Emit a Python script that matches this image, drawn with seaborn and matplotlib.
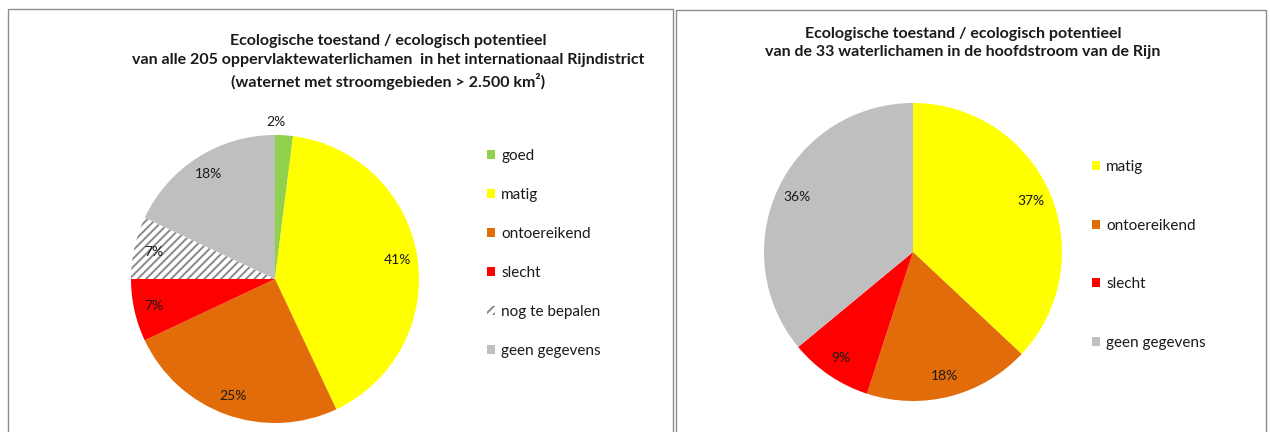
import matplotlib
matplotlib.use("Agg")
import matplotlib.pyplot as plt
from matplotlib.patches import Rectangle
import seaborn as sns

# Ecological status of water bodies in the Rhine district
left_categories = ["goed", "matig", "ontoereikend", "slecht", "nog te bepalen", "geen gegevens"]
left_values = [2, 41, 25, 7, 7, 18]

right_categories = ["matig", "ontoereikend", "slecht", "geen gegevens"]
right_values = [37, 18, 9, 36]

left_title = ("Ecologische toestand / ecologisch potentieel\n"
              "van alle 205 oppervlaktewaterlichamen  in het internationaal Rijndistrict\n"
              "(waternet met stroomgebieden > 2.500 km\u00b2)")
right_title = ("Ecologische toestand / ecologisch potentieel\n"
               "van de 33 waterlichamen in de hoofdstroom van de Rijn")

status_colors = {
    "goed": "#92D050",
    "matig": "#FFFF00",
    "ontoereikend": "#E36C0A",
    "slecht": "#FF0000",
    "nog te bepalen": "#FFFFFF",
    "geen gegevens": "#BFBFBF",
}
hatched = "nog te bepalen"
HATCH_COLOR = "#8a8a8a"

sns.set_theme(style="white")
plt.rcParams["font.family"] = ["Lato", "DejaVu Sans"]
plt.rcParams["hatch.color"] = HATCH_COLOR
plt.rcParams["hatch.linewidth"] = 1.4

W, H = 1270, 432
TXT = "#1a1a1a"

fig = plt.figure(figsize=(W / 100, H / 100), dpi=100)
ax = fig.add_axes([0, 0, 1, 1])


def py(y):
    # pixel row (top-down) to data y (bottom-up)
    return H - y


def draw_pie(values, cats, cx, cy, r):
    wedges, texts, autotexts = ax.pie(
        values,
        colors=[status_colors[c] for c in cats],
        startangle=90,
        counterclock=False,
        center=(cx, py(cy)),
        radius=r,
        autopct=lambda p: f"{p:.0f}%",
        pctdistance=0.86,
        wedgeprops=dict(linewidth=0),
        textprops=dict(fontsize=10, color=TXT),
    )
    for w, c in zip(wedges, cats):
        if c == hatched:
            w.set_edgecolor(HATCH_COLOR)
            w.set_linewidth(0)
            w.set_hatch("////")
    return wedges, autotexts


# left pie
lw, lt = draw_pie(left_values, left_categories, 275, 279, 144)
# the tiny slice gets its label just outside the rim
lt[0].set_position((276, py(122)))

# right pie
rw, rt = draw_pie(right_values, right_categories, 913, 252, 149)

ax.set_xlim(0, W)
ax.set_ylim(0, H)
ax.set_aspect("auto")
ax.axis("off")

# panel frames
for x0, y0, x1 in [(8, 9, 673), (676, 10, 1266)]:
    ax.add_patch(Rectangle((x0, py(H + 5)), x1 - x0, H + 5 - y0,
                           fill=False, edgecolor="#8c8c8c", linewidth=1.0, zorder=0))

# titles
ax.text(388, py(62), left_title, ha="center", va="center", fontsize=11.5,
        fontweight="bold", color=TXT, linespacing=1.42)
ax.text(963, py(43), right_title, ha="center", va="center", fontsize=11.5,
        fontweight="bold", color=TXT, linespacing=1.42)

# legends
leg_kw = dict(loc="upper left", frameon=False, fontsize=11, handlelength=0.52,
              handleheight=0.52, handletextpad=0.4, borderpad=0, borderaxespad=0)
leg1 = ax.legend(lw, left_categories, bbox_to_anchor=(487 / W, 1 - 149 / H),
                 labelspacing=1.63, **leg_kw)
for t in leg1.get_texts():
    t.set_color(TXT)
ax.add_artist(leg1)

leg2 = ax.legend(rw, right_categories, bbox_to_anchor=(1092 / W, 1 - 160 / H),
                 labelspacing=2.92, **leg_kw)
for t in leg2.get_texts():
    t.set_color(TXT)

fig.savefig("out.png", dpi=100, facecolor="white")
